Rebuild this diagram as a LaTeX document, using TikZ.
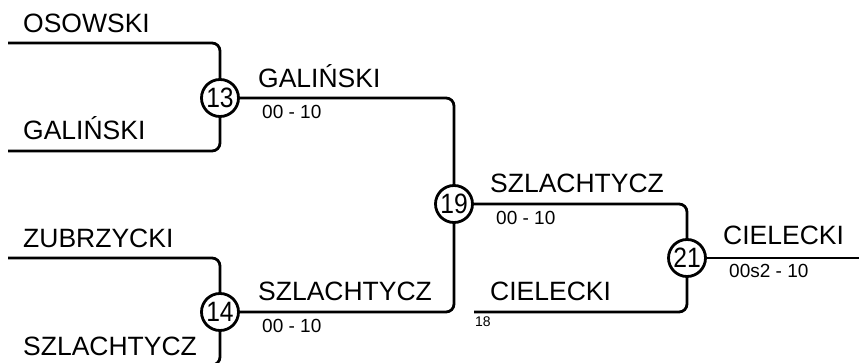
\documentclass[tikz,border=0pt]{standalone}
\usepackage{fontspec}
\setmainfont{Liberation Sans}
\begin{document}
\begin{tikzpicture}[x=1pt,y=-1pt,
  bline/.style={line width=2.8pt, rounded corners=8pt},
  match/.style={circle, draw, line width=2.8pt, minimum size=37pt, inner sep=0pt, font=\fontsize{28}{28}\selectfont},
  player/.style={anchor=base west, inner sep=0pt, font=\fontsize{26.5}{30}\selectfont},
  scorelbl/.style={anchor=base west, inner sep=0pt, font=\fontsize{19}{22}\selectfont},
  smalllbl/.style={anchor=base west, inner sep=0pt, font=\fontsize{14}{16}\selectfont}]
\useasboundingbox (0,0) rectangle (859,363);
\clip (0,0) rectangle (859,363);
% match circles
\node[match] (m13) at (220,98) {\scalebox{0.88}[1]{13}};
\node[match] (m14) at (220,312) {\scalebox{0.88}[1]{14}};
\node[match] (m19) at (454,204) {\scalebox{0.88}[1]{19}};
\node[match] (m21) at (687,258) {\scalebox{0.88}[1]{21}};
% free ends
\coordinate (p1) at (8,43);
\coordinate (p2) at (8,151);
\coordinate (p3) at (8,258);
\coordinate (p4) at (8,365);
\coordinate (p5) at (474,312);
\coordinate (p6) at (870,258);
% connectors
\draw[bline] (p1) -| (m13);
\draw[bline] (p2) -| (m13);
\draw[bline] (p3) -| (m14);
\draw[bline] (p4) -| (m14);
\draw[bline] (m13) -| (m19);
\draw[bline] (m14) -| (m19);
\draw[bline] (m19) -| (m21);
\draw[bline] (p5) -| (m21);
\draw[bline] (m21) -- (p6);
% names
\node[player] (t1) at (23,33) {OSOWSKI};
\node[player] (t2) at (23,140) {GALIŃSKI};
\node[player] (t3) at (23,248) {ZUBRZYCKI};
\node[player] (t4) at (23,355) {SZLACHTYCZ};
\node[player] (t5) at (258,88) {GALIŃSKI};
\node[player] (t6) at (258,301) {SZLACHTYCZ};
\node[player] (t7) at (490,193) {SZLACHTYCZ};
\node[player] (t8) at (490,300) {CIELECKI};
\node[player] (t9) at (723,245) {CIELECKI};
% scores
\node[scorelbl] (s1) at (262,119) {00 - 10};
\node[scorelbl] (s2) at (262,332) {00 - 10};
\node[scorelbl] (s3) at (496,225) {00 - 10};
\node[scorelbl] (s4) at (729,278) {00s2 - 10};
\node[smalllbl] (s5) at (475,326) {18};
\end{tikzpicture}
\end{document}
